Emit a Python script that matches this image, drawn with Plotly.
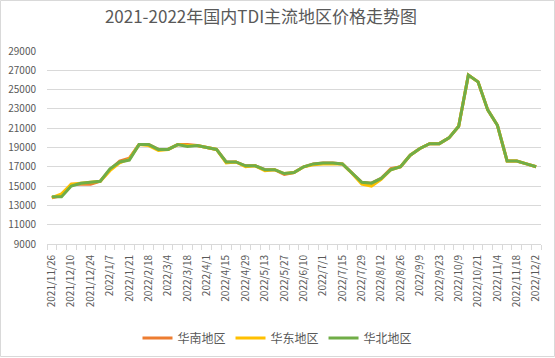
import plotly.graph_objects as go

dates = ["2021/11/26","2021/12/3","2021/12/10","2021/12/17","2021/12/24","2021/12/31",
         "2022/1/7","2022/1/14","2022/1/21","2022/2/11","2022/2/18","2022/2/25",
         "2022/3/4","2022/3/11","2022/3/18","2022/3/25","2022/4/1","2022/4/8",
         "2022/4/15","2022/4/22","2022/4/29","2022/5/6","2022/5/13","2022/5/20",
         "2022/5/27","2022/6/2","2022/6/10","2022/6/17","2022/7/1","2022/7/8",
         "2022/7/15","2022/7/22","2022/7/29","2022/8/5","2022/8/12","2022/8/19",
         "2022/8/26","2022/9/2","2022/9/9","2022/9/16","2022/9/23","2022/9/30",
         "2022/10/9","2022/10/14","2022/10/21","2022/10/28","2022/11/4","2022/11/11",
         "2022/11/18","2022/11/25","2022/12/2"]

south = [13800, 14000, 15200, 15200, 15200, 15500, 16700, 17600, 17900, 19300, 19300,
         18800, 18800, 19300, 19300, 19200, 19000, 18800, 17500, 17500, 17100, 17100,
         16700, 16700, 16200, 16400, 17000, 17300, 17400, 17400, 17300, 16400, 15400,
         15300, 15800, 16800, 17000, 18200, 18900, 19400, 19400, 20000, 21200, 26500,
         25800, 22900, 21300, 17600, 17600, 17300, 17000]

east = [13800, 14200, 15200, 15300, 15400, 15500, 16600, 17400, 17800, 19300, 19200,
        18700, 18800, 19300, 19200, 19200, 19000, 18800, 17400, 17500, 17000, 17100,
        16600, 16700, 16300, 16400, 17000, 17200, 17300, 17300, 17300, 16300, 15200,
        15000, 15700, 16700, 17000, 18200, 18900, 19400, 19400, 20000, 21200, 26500,
        25800, 22900, 21300, 17600, 17600, 17300, 17000]

north = [13900, 13900, 15000, 15300, 15400, 15500, 16800, 17500, 17700, 19300, 19300,
         18800, 18800, 19300, 19100, 19200, 19000, 18800, 17500, 17500, 17100, 17100,
         16700, 16700, 16300, 16400, 17000, 17300, 17400, 17400, 17300, 16400, 15400,
         15300, 15800, 16700, 17000, 18200, 18900, 19400, 19400, 20000, 21200, 26500,
         25800, 22900, 21300, 17600, 17600, 17300, 17000]

series_names = ["华南地区", "华东地区", "华北地区"]
colors = ["#ED7D31", "#FFC000", "#70AD47"]

y_ticks = list(range(9000, 29001, 2000))

idx = list(range(len(dates)))

fig = go.Figure()
for name, vals, c in zip(series_names, [south, east, north], colors):
    fig.add_trace(go.Scatter(x=idx, y=vals, name=name, mode="lines",
                             line=dict(color=c, width=3),
                             hovertext=dates))

W, H = 555, 358
ml, mr, mt, mb = 47, 14, 51, 114
pw, ph = W - ml - mr, H - mt - mb

font_family = "Noto Sans CJK SC, Noto Sans, sans-serif"

fig.update_layout(
    width=W, height=H,
    margin=dict(l=ml, r=mr, t=mt, b=mb, autoexpand=False),
    paper_bgcolor="white", plot_bgcolor="white",
    font=dict(family=font_family, color="#595959"),
    title=dict(text="2021-2022年国内TDI主流地区价格走势图",
               x=261 / W, xanchor="center", y=1 - 17 / H, yanchor="middle",
               xref="container", yref="container",
               font=dict(size=17, color="#595959", family=font_family)),
    showlegend=True,
    legend=dict(orientation="h", x=(277.5 - ml) / pw, xanchor="center",
                y=-(338 - (mt + ph)) / ph, yanchor="middle",
                font=dict(size=12, color="#595959"),
                itemwidth=30, tracegroupgap=0, traceorder="normal"),
    xaxis=dict(
        range=[-0.5, len(dates) - 0.5],
        tickmode="array",
        tickvals=idx[::2],
        ticktext=dates[::2],
        tickangle=-90,
        ticks="",
        ticklabelstandoff=6,
        tickfont=dict(size=10, color="#595959"),
        showgrid=False,
        zeroline=False,
        automargin=False,
        showline=True, linecolor="#D9D9D9", linewidth=1,
        minor=dict(tickmode="array",
                   tickvals=[i - 0.5 for i in range(len(dates) + 1)],
                   ticks="outside", ticklen=5, tickcolor="#D9D9D9",
                   tickwidth=1, showgrid=False),
    ),
    yaxis=dict(
        range=[9000, 29000],
        tickmode="array",
        tickvals=y_ticks,
        ticktext=[str(v) for v in y_ticks],
        tickfont=dict(size=10, color="#595959"),
        showgrid=True, gridcolor="#D9D9D9", gridwidth=1,
        zeroline=False, showline=False, ticks="",
        automargin=False,
        ticklabelstandoff=10,
    ),
    shapes=[dict(type="rect", xref="paper", yref="paper",
                 x0=-(ml - 0.5) / pw, x1=1 + (mr - 0.5) / pw,
                 y0=-(mb - 1.5) / ph, y1=1 + (mt - 0.5) / ph,
                 line=dict(color="#D9D9D9", width=1), layer="below")],
)

fig.write_html("out.html",
               config={"displayModeBar": False},
               post_script="document.body.style.margin='0px';document.body.style.overflow='hidden';")
